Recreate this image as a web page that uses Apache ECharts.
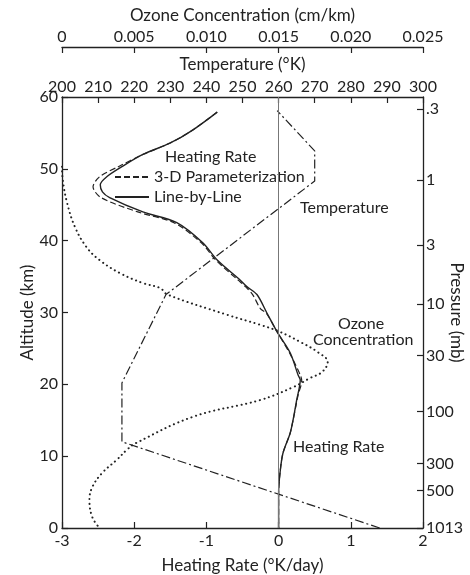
<!DOCTYPE html>
<html>
<head>
<meta charset="utf-8">
<script src="https://cdn.jsdelivr.net/npm/echarts@6.0.0/dist/echarts.min.js"></script>
<style>
html,body{margin:0;padding:0;background:#fff;}
#chart{width:470px;height:575px;}
</style>
</head>
<body>
<div id="chart"></div>
<script>
// Heating rate, line-by-line (K/day) vs altitude (km)
const lblAlt = [57.9, 55.4, 53.6, 52.0, 50.3, 48.9, 47.8, 46.8, 46.0, 44.0, 42.5, 39.7, 37.3, 34.5, 33.6, 32.5, 29.9, 27.3, 24.4, 21.3, 20.6, 17.8, 15.0, 13.2, 10.4, 7.7, 4.9, 0];
const lblHR  = [-0.85, -1.19, -1.50, -1.88, -2.17, -2.38, -2.47, -2.44, -2.34, -1.88, -1.41, -1.05, -0.85, -0.53, -0.44, -0.30, -0.16, -0.02, 0.16, 0.27, 0.30, 0.25, 0.20, 0.16, 0.06, 0.02, 0.0, 0.0];
// Heating rate, 3-D parameterization
const paramAlt = [57.9, 55.4, 53.6, 52.0, 50.3, 48.9, 47.5, 46.0, 44.0, 42.5, 39.7, 37.3, 34.5, 33.6, 32.5, 30.5, 29.9, 27.3, 24.4, 21.3, 20.5, 18.5, 17.0, 15.0, 13.2, 10.4, 7.7, 4.9, 0];
const paramHR  = [-0.85, -1.19, -1.50, -1.88, -2.22, -2.48, -2.57, -2.46, -1.95, -1.45, -1.07, -0.87, -0.56, -0.46, -0.36, -0.25, -0.17, -0.02, 0.15, 0.30, 0.32, 0.27, 0.24, 0.20, 0.16, 0.06, 0.02, 0.0, 0.0];
// Temperature (K)
const tempAlt = [0, 12.0, 20.2, 32.5, 48.3, 52.5, 58.1];
const tempK   = [288, 216.6, 216.6, 228.8, 270, 270, 259.6];
// Ozone concentration (cm/km)
const ozoneAlt = [50.3, 48.5, 45.3, 41.9, 39.1, 37.3, 35.5, 34.1, 33.4, 32.5, 29.7, 28.3, 27.3, 25.9, 24.5, 23.1, 21.7, 20.9, 19.6, 17.8, 15.5, 11.8, 10.9, 9.5, 7.7, 5.7, 3.9, 1.5, 0];
const ozoneVal = [0.0, 0.00005, 0.00035, 0.0009, 0.0017, 0.0026, 0.0040, 0.0056, 0.0068, 0.0073, 0.0114, 0.0137, 0.0151, 0.0165, 0.0177, 0.0184, 0.0180, 0.0172, 0.0160, 0.0137, 0.0091, 0.0051, 0.0045, 0.0038, 0.0028, 0.0021, 0.0019, 0.0021, 0.0026];
// Pressure axis (right): tick labels and their altitudes
const pressureLabels = ['.3', '1', '3', '10', '30', '100', '300', '500', '1013'];
const pressureAlt    = [58.3, 48.4, 39.4, 31.2, 24.0, 16.2, 9.0, 5.2, 0];

const zip = (xs, ys) => xs.map((x, i) => [x, ys[i]]);
const FONT = 'Lato';
const INK = '#222';
const axisBase = {
  nameMoveOverlap: false,
  axisLine: {onZero: false, lineStyle: {color: INK, width: 1.3}},
  axisTick: {inside: true, length: 6, lineStyle: {color: INK, width: 1.2}},
  axisLabel: {color: INK, fontFamily: FONT, fontSize: 16},
  splitLine: {show: false},
  nameTextStyle: {color: INK, fontFamily: FONT, fontSize: 17}
};

const chart = echarts.init(document.getElementById('chart'), null, {renderer: 'canvas'});
chart.setOption({
  animation: false,
  backgroundColor: '#fff',
  textStyle: {fontFamily: FONT},
  grid: {left: 62, right: 47, top: 97, bottom: 47, outerBoundsMode: 'none', containLabel: false},
  legend: {
    orient: 'vertical', left: 114, top: 169, itemWidth: 34, itemHeight: 10, itemGap: 4,
    padding: 0, textStyle: {color: INK, fontFamily: FONT, fontSize: 16},
    itemStyle: {opacity: 0},
    data: ['3-D Parameterization', 'Line-by-Line']
  },
  xAxis: [
    Object.assign({}, axisBase, {
      type: 'value', position: 'bottom', min: -3, max: 2, interval: 1,
      name: 'Heating Rate (°K/day)', nameLocation: 'middle', nameGap: 29,
      axisLabel: Object.assign({}, axisBase.axisLabel, {margin: 5})
    }),
    Object.assign({}, axisBase, {
      type: 'value', position: 'top', min: 200, max: 300, interval: 10,
      name: 'Temperature (°K)', nameLocation: 'middle', nameGap: 24,
      axisLabel: Object.assign({}, axisBase.axisLabel, {margin: 2})
    }),
    Object.assign({}, axisBase, {
      type: 'value', position: 'top', offset: 50, min: 0, max: 0.025, interval: 0.005,
      name: 'Ozone Concentration (cm/km)', nameLocation: 'middle', nameGap: 23,
      axisLabel: Object.assign({}, axisBase.axisLabel, {margin: 2,
        formatter: v => v === 0 ? '0' : v.toFixed(3)})
    })
  ],
  yAxis: [
    Object.assign({}, axisBase, {
      type: 'value', position: 'left', min: 0, max: 60, interval: 10,
      name: 'Altitude (km)', nameLocation: 'middle', nameGap: 26,
      axisLabel: Object.assign({}, axisBase.axisLabel, {margin: 4})
    }),
    Object.assign({}, axisBase, {
      type: 'value', position: 'right', min: 0, max: 60,
      name: 'Pressure (mb)', nameLocation: 'middle', nameGap: 25, nameRotate: -90,
      axisTick: Object.assign({}, axisBase.axisTick, {customValues: pressureAlt}),
      axisLabel: Object.assign({}, axisBase.axisLabel, {margin: 3, customValues: pressureAlt,
        formatter: v => { const i = pressureAlt.findIndex(a => Math.abs(a - v) < 1e-6); return i >= 0 ? pressureLabels[i] : ''; }})
    })
  ],
  series: [
    {
      name: 'Line-by-Line', type: 'line', xAxisIndex: 0, yAxisIndex: 0,
      data: zip(lblHR, lblAlt), symbol: 'none', smooth: 0.3,
      itemStyle: {color: INK},
      lineStyle: {color: INK, width: 1.4, type: 'solid'},
      markLine: {
        silent: true, symbol: 'none', label: {show: false},
        lineStyle: {color: '#777', width: 1, type: 'solid'},
        data: [{xAxis: 0}]
      }
    },
    {
      name: '3-D Parameterization', type: 'line', xAxisIndex: 0, yAxisIndex: 0,
      data: zip(paramHR, paramAlt), symbol: 'none', smooth: 0.3,
      itemStyle: {color: INK},
      lineStyle: {color: INK, width: 1.2, type: [6, 3]}
    },
    {
      name: 'Temperature', type: 'line', xAxisIndex: 1, yAxisIndex: 0,
      data: zip(tempK, tempAlt), symbol: 'none',
      itemStyle: {color: INK},
      lineStyle: {color: INK, width: 1.2, type: [9, 3, 2, 3]}
    },
    {
      name: 'Ozone Concentration', type: 'line', xAxisIndex: 2, yAxisIndex: 0,
      data: zip(ozoneVal, ozoneAlt), symbol: 'none', smooth: 0.4,
      itemStyle: {color: INK},
      lineStyle: {color: INK, width: 2, type: [0.1, 4.6], cap: 'round'}
    }
  ],
  graphic: [
    {type: 'text', left: 165, top: 149, style: {text: 'Heating Rate', fill: INK, font: '16px ' + FONT}},
    {type: 'text', left: 300, top: 200, style: {text: 'Temperature', fill: INK, font: '16px ' + FONT}},
    {type: 'text', left: 338, top: 316, style: {text: 'Ozone', fill: INK, font: '16px ' + FONT}},
    {type: 'text', left: 313, top: 332, style: {text: 'Concentration', fill: INK, font: '16px ' + FONT}},
    {type: 'text', left: 293, top: 439, style: {text: 'Heating Rate', fill: INK, font: '16px ' + FONT}}
  ]
});
</script>
</body>
</html>
